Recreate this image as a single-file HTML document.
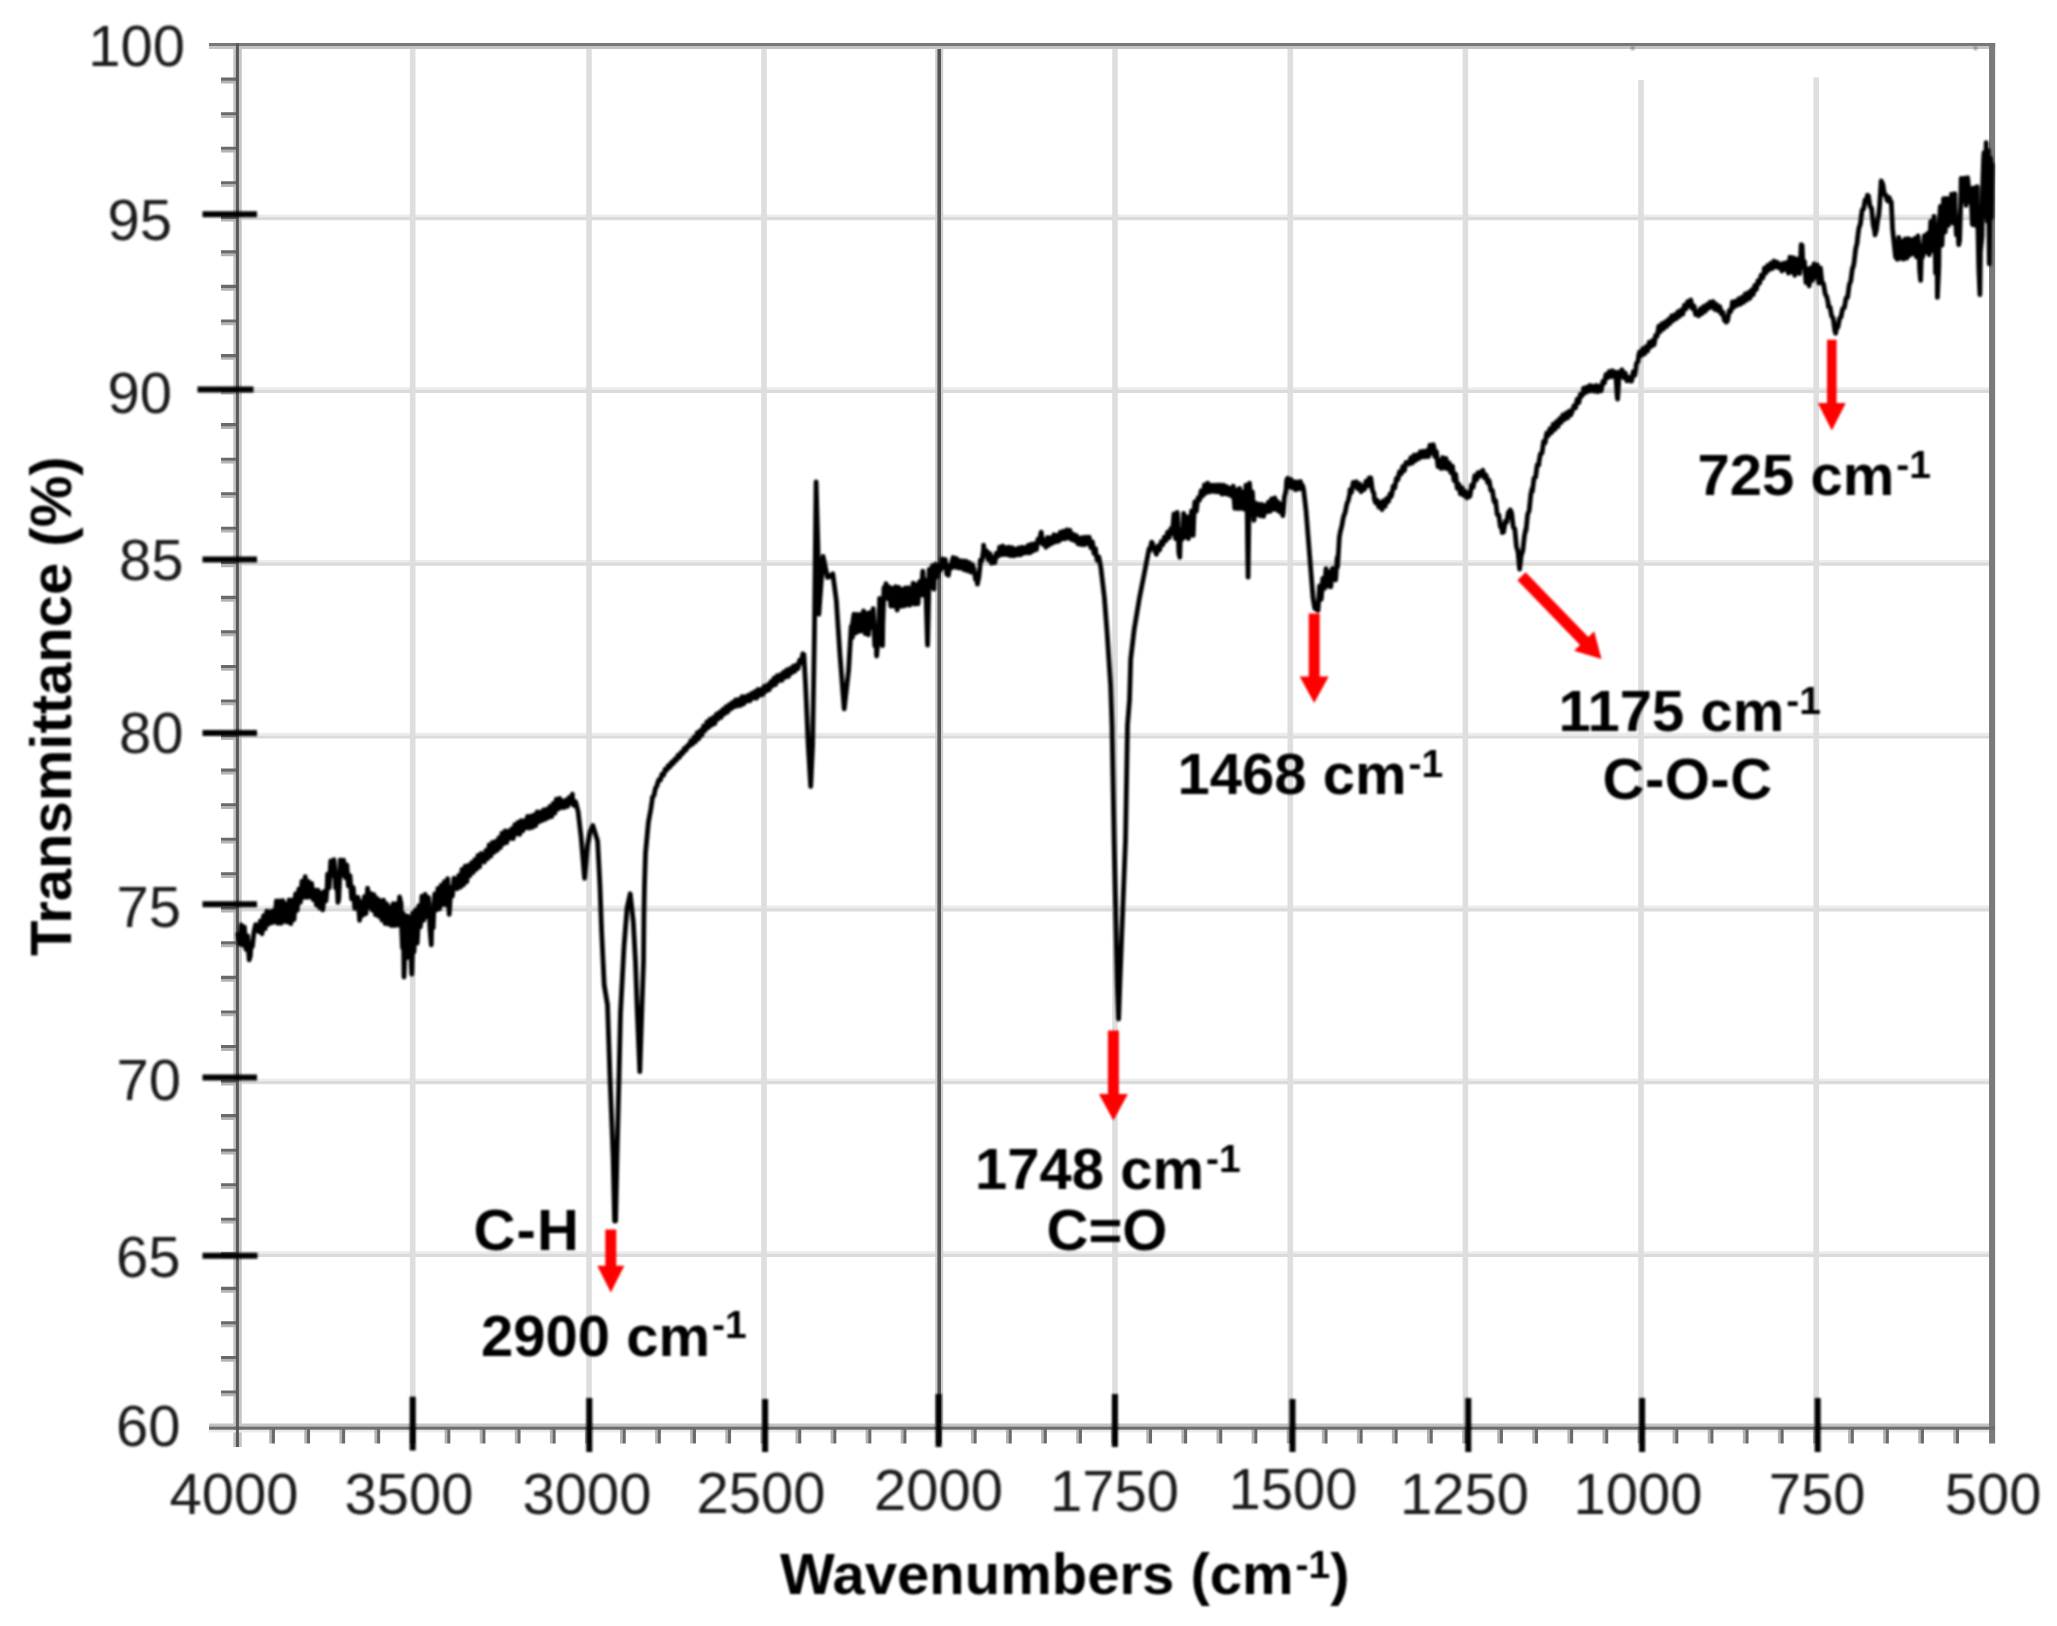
<!DOCTYPE html>
<html lang="en">
<head>
<meta charset="utf-8">
<title>FTIR spectrum</title>
<style>
html,body{margin:0;padding:0;background:#fff;}
body{width:2057px;height:1626px;overflow:hidden;}
svg{display:block;}
</style>
</head>
<body>
<svg width="2057" height="1626" viewBox="0 0 2057 1626">
<defs><filter id="soft" x="-2%" y="-2%" width="104%" height="104%"><feGaussianBlur stdDeviation="1.3"/></filter><filter id="soft2" x="-2%" y="-2%" width="104%" height="104%"><feGaussianBlur stdDeviation="0.7"/></filter></defs>
<rect width="2057" height="1626" fill="#ffffff"/>
<g fill="none" filter="url(#soft2)">
<path d="M238.0 215.8 H1992.3 M238.0 388.6 H1992.3 M238.0 561.4 H1992.3 M238.0 734.2 H1992.3 M238.0 907.0 H1992.3 M238.0 1079.8 H1992.3 M238.0 1252.6 H1992.3" stroke="#ececec" stroke-width="2.8"/>
<path d="M238.0 218.6 H1992.3 M238.0 391.4 H1992.3 M238.0 564.2 H1992.3 M238.0 737.0 H1992.3 M238.0 909.8 H1992.3 M238.0 1082.6 H1992.3 M238.0 1255.4 H1992.3" stroke="#dbdbdb" stroke-width="3.2"/>
<path d="M412.7 45.3 V1427.3 M589.0 45.3 V1427.3 M764.0 45.3 V1427.3 M1115.0 45.3 V1427.3 M1290.3 45.3 V1427.3 M1465.4 45.3 V1427.3 M1641.0 80.0 V1427.3 M1816.2 77.5 V1427.3" stroke="#dedede" stroke-width="5.6"/>
<path d="M939.2 45.3 V1427.3" stroke="#cfcfcf" stroke-width="8"/>
<path d="M939.2 45.3 V1427.3" stroke="#555" stroke-width="3.6"/>
<path d="M237.5 43.3 V1447" stroke="#c4c4c4" stroke-width="8.5"/>
<path d="M209 47.4 H1995.2" stroke="#c4c4c4" stroke-width="3"/>
<path d="M209 1425 H1995" stroke="#c4c4c4" stroke-width="2.8"/>
<path d="M209 1431.2 H1995" stroke="#ececec" stroke-width="2.6"/>
<path d="M221 82.0 H238.0 M221 116.6 H238.0 M221 151.1 H238.0 M221 185.7 H238.0 M221 220.2 H238.0 M221 254.8 H238.0 M221 289.3 H238.0 M221 323.9 H238.0 M221 358.4 H238.0 M221 393.0 H238.0 M221 427.5 H238.0 M221 462.1 H238.0 M221 496.6 H238.0 M221 531.2 H238.0 M221 565.8 H238.0 M221 600.3 H238.0 M221 634.8 H238.0 M221 669.4 H238.0 M221 703.9 H238.0 M221 738.5 H238.0 M221 773.0 H238.0 M221 807.6 H238.0 M221 842.1 H238.0 M221 876.7 H238.0 M221 911.2 H238.0 M221 945.8 H238.0 M221 980.3 H238.0 M221 1014.9 H238.0 M221 1049.5 H238.0 M221 1084.0 H238.0 M221 1118.5 H238.0 M221 1153.1 H238.0 M221 1187.6 H238.0 M221 1222.2 H238.0 M221 1256.8 H238.0 M221 1291.3 H238.0 M221 1325.8 H238.0 M221 1360.4 H238.0 M221 1394.9 H238.0 M270.6 1427.3 V1443.5 M305.7 1427.3 V1443.5 M340.8 1427.3 V1443.5 M375.8 1427.3 V1443.5 M410.9 1427.3 V1443.5 M446.0 1427.3 V1443.5 M481.1 1427.3 V1443.5 M516.2 1427.3 V1443.5 M551.3 1427.3 V1443.5 M586.4 1427.3 V1443.5 M621.4 1427.3 V1443.5 M656.5 1427.3 V1443.5 M691.6 1427.3 V1443.5 M726.7 1427.3 V1443.5 M761.8 1427.3 V1443.5 M796.9 1427.3 V1443.5 M832.0 1427.3 V1443.5 M867.0 1427.3 V1443.5 M902.1 1427.3 V1443.5 M937.2 1427.3 V1443.5 M972.3 1427.3 V1443.5 M1007.4 1427.3 V1443.5 M1042.5 1427.3 V1443.5 M1077.6 1427.3 V1443.5 M1112.7 1427.3 V1443.5 M1147.7 1427.3 V1443.5 M1182.8 1427.3 V1443.5 M1217.9 1427.3 V1443.5 M1253.0 1427.3 V1443.5 M1288.1 1427.3 V1443.5 M1323.2 1427.3 V1443.5 M1358.3 1427.3 V1443.5 M1393.3 1427.3 V1443.5 M1428.4 1427.3 V1443.5 M1463.5 1427.3 V1443.5 M1498.6 1427.3 V1443.5 M1533.7 1427.3 V1443.5 M1568.8 1427.3 V1443.5 M1603.9 1427.3 V1443.5 M1638.9 1427.3 V1443.5 M1674.0 1427.3 V1443.5 M1709.1 1427.3 V1443.5 M1744.2 1427.3 V1443.5 M1779.3 1427.3 V1443.5 M1814.4 1427.3 V1443.5 M1849.5 1427.3 V1443.5 M1884.5 1427.3 V1443.5 M1919.6 1427.3 V1443.5 M1954.7 1427.3 V1443.5" stroke="#b4b4b4" stroke-width="2.8"/>
<path d="M221 79.1 H238.0 M221 113.7 H238.0 M221 148.2 H238.0 M221 182.8 H238.0 M221 217.4 H238.0 M221 251.9 H238.0 M221 286.4 H238.0 M221 321.0 H238.0 M221 355.6 H238.0 M221 390.1 H238.0 M221 424.6 H238.0 M221 459.2 H238.0 M221 493.8 H238.0 M221 528.3 H238.0 M221 562.8 H238.0 M221 597.4 H238.0 M221 631.9 H238.0 M221 666.5 H238.0 M221 701.0 H238.0 M221 735.6 H238.0 M221 770.1 H238.0 M221 804.7 H238.0 M221 839.2 H238.0 M221 873.8 H238.0 M221 908.3 H238.0 M221 942.9 H238.0 M221 977.4 H238.0 M221 1012.0 H238.0 M221 1046.5 H238.0 M221 1081.1 H238.0 M221 1115.6 H238.0 M221 1150.2 H238.0 M221 1184.7 H238.0 M221 1219.3 H238.0 M221 1253.8 H238.0 M221 1288.4 H238.0 M221 1322.9 H238.0 M221 1357.5 H238.0 M221 1392.0 H238.0 M273.4 1427.3 V1443.5 M308.5 1427.3 V1443.5 M343.6 1427.3 V1443.5 M378.6 1427.3 V1443.5 M413.7 1427.3 V1443.5 M448.8 1427.3 V1443.5 M483.9 1427.3 V1443.5 M519.0 1427.3 V1443.5 M554.1 1427.3 V1443.5 M589.2 1427.3 V1443.5 M624.2 1427.3 V1443.5 M659.3 1427.3 V1443.5 M694.4 1427.3 V1443.5 M729.5 1427.3 V1443.5 M764.6 1427.3 V1443.5 M799.7 1427.3 V1443.5 M834.8 1427.3 V1443.5 M869.8 1427.3 V1443.5 M904.9 1427.3 V1443.5 M940.0 1427.3 V1443.5 M975.1 1427.3 V1443.5 M1010.2 1427.3 V1443.5 M1045.3 1427.3 V1443.5 M1080.4 1427.3 V1443.5 M1115.5 1427.3 V1443.5 M1150.5 1427.3 V1443.5 M1185.6 1427.3 V1443.5 M1220.7 1427.3 V1443.5 M1255.8 1427.3 V1443.5 M1290.9 1427.3 V1443.5 M1326.0 1427.3 V1443.5 M1361.1 1427.3 V1443.5 M1396.1 1427.3 V1443.5 M1431.2 1427.3 V1443.5 M1466.3 1427.3 V1443.5 M1501.4 1427.3 V1443.5 M1536.5 1427.3 V1443.5 M1571.6 1427.3 V1443.5 M1606.7 1427.3 V1443.5 M1641.7 1427.3 V1443.5 M1676.8 1427.3 V1443.5 M1711.9 1427.3 V1443.5 M1747.0 1427.3 V1443.5 M1782.1 1427.3 V1443.5 M1817.2 1427.3 V1443.5 M1852.3 1427.3 V1443.5 M1887.3 1427.3 V1443.5 M1922.4 1427.3 V1443.5 M1957.5 1427.3 V1443.5" stroke="#6a6a6a" stroke-width="3.1"/>
<path d="M1992.1 43.1 V1443.5" stroke="#7a7a7a" stroke-width="6.1"/>
<path d="M209 44.5 H1995.2" stroke="#787878" stroke-width="3"/>
<path d="M209 1428.1 H1995" stroke="#6e6e6e" stroke-width="3.4"/>
<path d="M237.4 43.3 V1447" stroke="#585858" stroke-width="3"/>
</g>
<g filter="url(#soft)">
<path d="M1632.6 46 V50 M1975.5 46 V50" stroke="#888" stroke-width="3"/>
<g stroke="#000" stroke-width="6" fill="none">
<path d="M202.5 214.2 H257.0"/>
<path d="M197.5 389.6 H253.5"/>
<path d="M202.5 559.6 H257.0"/>
<path d="M202.5 733.0 H257.0"/>
<path d="M202.5 904.3 H257.0"/>
<path d="M202.5 1077.4 H257.0"/>
<path d="M202.5 1255.8 H257.5"/>
<path d="M412.7 1396.7 V1450.5"/>
<path d="M589.3 1398.0 V1452.0"/>
<path d="M765.1 1399.0 V1452.0"/>
<path d="M938.6 1394.0 V1447.0"/>
<path d="M1114.9 1394.0 V1447.0"/>
<path d="M1292.5 1399.0 V1452.0"/>
<path d="M1468.3 1398.0 V1452.0"/>
<path d="M1642.1 1398.0 V1452.0"/>
<path d="M1817.7 1398.0 V1452.0"/>
</g>
<path d="M238.0 934.3 L239.6 944.2 L241.2 924.8 L242.8 945.1 L244.4 926.9 L245.0 937.4 L246.0 949.3 L247.6 936.0 L249.2 959.8 L250.4 955.7 L250.8 945.3 L252.4 946.4 L254.0 931.9 L255.6 924.7 L257.2 928.3 L258.8 931.6 L260.4 920.9 L262.0 933.8 L263.6 915.7 L265.2 928.7 L266.8 911.1 L268.4 924.3 L268.9 919.5 L270.0 911.6 L271.6 922.9 L273.2 910.7 L274.8 922.0 L276.4 901.0 L278.0 923.4 L279.6 900.9 L280.6 913.2 L281.2 923.4 L282.8 900.7 L284.4 921.3 L286.0 903.9 L287.6 922.2 L289.2 899.8 L290.8 923.7 L292.2 911.8 L292.4 899.9 L294.0 919.5 L295.6 893.9 L297.2 910.4 L298.1 898.7 L298.8 889.1 L300.4 902.4 L302.0 881.1 L303.6 897.3 L304.9 884.8 L305.2 876.7 L306.8 897.4 L308.4 881.3 L310.0 896.9 L311.6 883.5 L313.2 899.5 L313.6 894.2 L314.8 890.1 L316.4 905.0 L318.0 890.2 L319.6 907.8 L321.2 893.0 L322.8 909.9 L323.3 904.4 L324.4 891.3 L326.0 900.9 L327.2 886.3 L327.6 874.1 L329.2 887.9 L330.8 860.8 L331.1 868.6 L332.4 875.2 L334.0 859.7 L335.0 870.5 L335.6 888.0 L337.2 884.7 L337.9 902.3 L338.8 899.0 L340.4 859.8 L340.5 866.4 L342.0 874.6 L342.8 863.9 L343.6 860.2 L345.2 877.5 L346.8 864.9 L348.4 885.8 L350.0 875.6 L350.6 884.1 L351.6 898.8 L353.2 887.5 L354.8 908.4 L356.4 906.0 L358.0 897.3 L359.6 920.4 L360.3 912.2 L361.2 902.0 L362.8 915.4 L364.4 896.7 L366.0 913.5 L367.6 888.1 L368.1 897.8 L369.2 907.4 L370.8 893.4 L372.4 910.2 L374.0 894.6 L375.6 914.7 L377.2 898.4 L377.8 905.0 L378.8 916.4 L380.4 900.6 L382.0 920.0 L383.6 900.2 L385.2 923.5 L385.6 913.7 L386.8 903.9 L388.4 924.0 L390.0 907.2 L391.6 925.5 L393.2 903.6 L394.8 925.6 L396.4 903.7 L397.2 914.2 L398.0 925.0 L399.6 897.0 L401.1 903.7 L401.2 916.5 L402.5 947.7 L402.8 923.7 L403.2 913.2 L404.0 977.0 L404.4 966.7 L405.0 922.4 L406.0 958.2 L407.0 915.9 L407.6 928.2 L407.9 949.5 L409.0 917.0 L409.2 936.4 L410.3 958.2 L410.8 953.4 L411.8 974.1 L412.4 951.5 L412.8 913.0 L414.0 951.8 L415.0 914.6 L415.6 909.9 L416.5 939.9 L417.2 943.1 L418.6 916.4 L418.8 905.8 L420.4 926.9 L422.0 896.2 L423.6 920.3 L424.5 905.3 L425.2 894.5 L426.8 916.7 L428.4 897.3 L429.0 905.2 L430.0 929.6 L431.3 944.8 L431.6 927.1 L433.2 927.7 L434.0 903.8 L434.8 893.9 L436.1 901.5 L436.4 909.9 L438.0 888.3 L439.6 908.9 L441.2 885.1 L442.8 904.5 L443.9 893.1 L444.4 881.6 L446.0 904.8 L447.5 891.4 L447.6 878.7 L449.2 914.3 L449.7 906.7 L450.8 888.3 L452.0 887.1 L452.4 896.0 L454.0 878.2 L455.6 883.3 L457.2 888.8 L458.8 875.4 L460.4 887.2 L462.0 869.4 L463.3 876.6 L463.6 884.9 L465.2 866.1 L466.8 881.8 L468.4 865.4 L470.0 875.7 L471.6 862.7 L473.2 872.4 L474.8 859.6 L476.4 869.3 L478.0 855.4 L479.6 866.8 L481.2 853.5 L482.8 857.5 L484.4 862.0 L486.0 850.3 L487.6 858.7 L489.2 844.8 L490.8 856.2 L492.4 842.4 L494.0 852.4 L495.6 841.3 L497.2 850.4 L498.8 838.0 L500.4 847.6 L502.0 833.1 L502.2 839.5 L503.6 843.7 L505.2 830.9 L506.8 842.5 L508.4 831.1 L510.0 838.4 L511.6 828.9 L513.2 838.6 L514.8 824.6 L516.4 834.0 L518.0 822.3 L519.6 834.4 L521.2 820.6 L521.7 825.8 L522.8 831.0 L524.4 820.6 L526.0 827.8 L527.6 816.4 L529.2 828.1 L530.8 816.1 L532.4 827.4 L534.0 814.8 L535.6 825.6 L537.2 812.0 L538.8 822.0 L540.4 812.2 L541.1 816.0 L542.0 820.6 L543.6 809.8 L545.2 819.4 L546.8 809.1 L548.4 817.7 L550.0 806.3 L550.9 812.2 L551.6 816.6 L553.2 803.5 L554.8 813.2 L556.4 799.2 L556.7 804.7 L558.0 809.1 L559.6 798.4 L561.2 807.7 L562.8 801.0 L564.4 807.5 L564.5 803.3 L566.0 800.0 L567.6 806.3 L569.2 797.5 L570.8 803.4 L572.4 794.2 L572.5 798.6 L574.0 805.5 L575.6 801.8 L578.1 811.5 L581.2 838.0 L584.6 878.4 L587.6 845.0 L590.0 832.0 L592.8 825.5 L597.6 841.0 L599.9 884.5 L601.6 931.0 L604.2 985.0 L607.5 1005.0 L610.0 1077.8 L613.1 1155.6 L614.6 1221.0 L615.6 1221.0 L617.0 1155.6 L619.0 1077.8 L620.5 1013.0 L624.0 946.7 L627.1 907.8 L630.2 893.8 L633.3 921.8 L635.5 962.0 L637.0 1005.0 L639.8 1071.6 L642.0 1005.0 L643.5 962.0 L643.9 915.6 L644.5 884.5 L645.5 853.3 L648.4 822.2 L650.8 809.4 L652.3 799.1 L652.4 797.5 L654.0 795.3 L655.6 787.8 L657.2 785.5 L657.5 783.5 L658.8 779.7 L660.4 780.0 L662.0 774.2 L663.6 775.1 L665.2 769.2 L666.0 769.4 L666.8 770.0 L668.4 765.4 L670.0 766.9 L671.6 762.3 L673.2 763.6 L674.8 759.1 L675.3 760.2 L676.4 760.4 L678.0 755.3 L679.6 757.2 L681.2 752.3 L682.8 753.4 L684.4 748.3 L686.0 750.1 L687.6 745.5 L689.1 744.8 L689.2 746.3 L690.8 740.7 L692.4 744.3 L694.0 737.3 L695.6 741.7 L697.2 732.6 L698.8 738.7 L700.4 730.4 L702.0 735.0 L703.6 726.0 L705.2 730.5 L706.6 726.9 L706.8 722.0 L708.4 727.6 L710.0 719.3 L711.6 725.2 L713.2 717.5 L714.8 723.6 L716.4 714.1 L718.0 719.3 L719.6 712.1 L721.2 717.2 L722.8 709.5 L724.4 713.9 L726.0 706.8 L727.6 712.1 L729.2 704.7 L730.8 709.1 L731.1 705.3 L732.4 702.4 L734.0 707.1 L735.6 699.9 L737.2 706.0 L738.8 699.5 L740.4 705.5 L742.0 696.7 L743.6 704.0 L745.2 696.6 L746.8 701.2 L748.4 695.3 L750.0 700.8 L751.6 693.4 L753.2 698.1 L754.8 691.7 L756.4 698.2 L758.0 689.5 L759.6 695.5 L761.2 689.3 L762.7 691.8 L762.8 694.6 L764.4 686.3 L766.0 691.2 L767.6 684.9 L769.2 689.8 L770.8 681.7 L772.4 686.0 L774.0 678.1 L775.6 684.5 L777.2 675.8 L778.8 680.9 L780.2 677.8 L780.4 674.7 L782.0 680.2 L783.6 672.1 L785.2 677.3 L786.8 669.9 L788.4 676.5 L790.0 668.6 L791.6 673.0 L793.2 666.2 L794.8 671.3 L796.4 665.0 L797.7 666.4 L798.0 668.6 L799.6 660.3 L801.2 662.8 L802.8 653.8 L803.9 654.5 L805.7 688.0 L808.2 745.0 L810.7 786.4 L812.6 745.0 L814.4 635.3 L816.1 481.9 L817.9 547.6 L818.8 614.2 L823.1 556.4 L827.5 577.4 L832.8 573.9 L836.3 600.2 L839.8 652.8 L844.2 708.9 L848.6 670.3 L851.2 626.5 L852.4 637.4 L852.5 624.1 L854.0 614.1 L855.6 633.1 L857.2 614.4 L858.8 631.5 L860.4 614.4 L862.0 630.8 L863.6 610.8 L865.2 633.5 L866.8 613.5 L868.0 621.9 L868.4 634.8 L870.0 612.5 L871.6 627.3 L873.0 614.8 L873.2 608.6 L874.8 645.9 L876.4 645.5 L876.6 656.0 L878.0 641.0 L879.5 606.6 L879.6 598.4 L881.2 638.1 L882.5 645.7 L882.8 624.2 L884.0 587.7 L884.4 596.4 L886.0 583.6 L887.6 598.6 L889.2 586.9 L890.8 606.1 L892.4 588.4 L894.0 606.2 L894.1 596.9 L895.6 586.7 L897.2 610.0 L898.8 587.4 L900.4 606.3 L902.0 589.4 L903.6 606.0 L905.2 587.9 L906.8 605.0 L908.4 587.6 L910.0 605.2 L911.6 598.4 L913.2 583.1 L914.8 604.1 L916.4 584.6 L918.0 603.9 L919.6 581.7 L920.4 589.2 L921.2 594.9 L922.8 571.1 L924.4 595.6 L925.0 580.0 L926.0 593.6 L927.4 641.4 L927.6 645.1 L929.2 569.4 L929.5 569.7 L930.8 587.6 L932.4 565.6 L934.0 589.1 L934.4 578.1 L935.6 564.2 L937.2 576.9 L938.8 565.3 L940.4 570.1 L941.4 563.6 L942.0 558.8 L943.6 567.3 L945.0 561.8 L945.2 559.3 L946.8 574.2 L948.4 575.2 L950.0 565.2 L951.6 567.7 L952.0 561.3 L953.2 557.5 L954.8 567.2 L955.5 562.7 L956.4 558.4 L958.0 567.9 L959.6 560.7 L961.2 568.2 L962.8 560.9 L964.4 569.9 L966.0 561.2 L967.6 570.9 L969.2 562.7 L969.5 567.5 L970.8 572.1 L972.4 564.6 L974.0 569.6 L975.6 579.6 L977.2 580.5 L977.4 584.2 L978.8 577.5 L980.0 566.5 L980.4 560.1 L982.0 560.7 L983.5 549.6 L983.6 545.2 L985.2 555.4 L986.8 550.9 L987.0 554.3 L988.4 560.0 L990.0 553.6 L990.5 558.2 L991.6 563.2 L993.2 557.4 L994.0 561.3 L994.8 562.6 L996.4 553.2 L998.0 556.3 L999.3 550.7 L999.6 547.2 L1001.2 554.8 L1002.8 546.0 L1004.4 554.5 L1006.0 547.6 L1007.6 554.8 L1009.2 547.2 L1010.8 555.7 L1012.4 547.7 L1014.0 555.8 L1015.6 549.1 L1017.2 555.0 L1018.6 551.8 L1018.8 547.9 L1020.4 554.9 L1022.0 547.3 L1023.6 553.3 L1025.2 547.5 L1026.8 552.9 L1028.4 545.2 L1030.0 552.8 L1031.6 544.2 L1033.2 551.0 L1034.8 543.6 L1036.1 546.8 L1036.4 549.7 L1038.0 539.1 L1039.6 542.4 L1040.5 535.1 L1041.2 532.1 L1042.8 544.3 L1044.4 540.0 L1044.8 543.3 L1046.0 547.2 L1047.6 537.5 L1049.2 545.1 L1050.8 537.6 L1052.4 543.2 L1054.0 534.8 L1055.6 541.8 L1057.1 538.2 L1057.2 535.1 L1058.8 541.2 L1060.4 532.2 L1062.0 539.1 L1063.6 531.3 L1065.2 538.7 L1066.8 529.9 L1068.4 538.0 L1068.5 533.4 L1070.0 530.3 L1071.6 539.6 L1073.2 534.4 L1074.8 540.7 L1076.4 535.5 L1078.0 543.9 L1079.6 538.1 L1079.9 541.1 L1081.2 544.6 L1082.8 537.5 L1084.4 544.7 L1086.0 537.2 L1087.6 543.5 L1088.7 539.5 L1089.2 537.1 L1090.8 547.6 L1092.4 541.8 L1094.0 553.5 L1095.6 548.8 L1095.7 552.0 L1097.2 560.2 L1098.8 556.8 L1100.9 567.9 L1104.4 597.7 L1107.1 632.8 L1110.6 685.0 L1112.0 725.0 L1114.1 840.0 L1117.3 985.0 L1118.6 1019.0 L1119.8 985.0 L1122.0 927.8 L1125.5 840.2 L1127.5 725.0 L1129.5 700.0 L1130.7 659.1 L1134.2 629.3 L1139.5 597.7 L1144.7 571.4 L1149.1 548.7 L1150.0 550.4 L1151.6 542.2 L1152.6 543.3 L1153.2 547.9 L1154.8 548.4 L1155.3 551.8 L1156.4 554.2 L1158.0 546.0 L1159.6 550.1 L1161.2 541.8 L1162.8 544.6 L1164.4 537.1 L1165.8 537.8 L1166.0 540.6 L1167.6 532.3 L1169.2 537.6 L1170.8 528.6 L1172.4 533.3 L1174.0 513.8 L1174.5 529.6 L1175.6 538.7 L1177.2 512.5 L1178.0 523.0 L1178.8 552.6 L1179.8 557.2 L1180.4 534.4 L1181.5 530.7 L1182.0 539.6 L1183.3 526.0 L1183.6 513.5 L1185.2 537.1 L1186.8 516.6 L1188.4 538.6 L1190.0 527.1 L1191.6 511.0 L1193.2 535.3 L1193.8 517.9 L1194.8 501.9 L1196.4 511.1 L1197.0 505.1 L1198.0 497.9 L1199.1 497.3 L1199.6 500.0 L1201.2 490.7 L1202.8 495.8 L1204.3 488.2 L1204.4 485.0 L1206.0 493.0 L1207.6 483.2 L1209.2 492.0 L1210.8 485.1 L1212.4 491.4 L1214.0 485.2 L1215.6 491.7 L1216.6 487.6 L1217.2 485.0 L1218.8 492.0 L1220.4 485.0 L1222.0 494.1 L1223.6 485.2 L1225.2 493.7 L1226.8 486.7 L1228.4 494.6 L1228.9 490.6 L1230.0 488.3 L1231.6 496.1 L1233.2 486.1 L1234.8 508.3 L1236.4 489.8 L1238.0 508.5 L1239.4 500.5 L1239.6 488.3 L1241.2 508.4 L1242.8 492.2 L1244.4 509.2 L1245.0 500.6 L1246.0 485.1 L1247.0 489.7 L1247.6 547.5 L1248.1 577.2 L1249.2 497.5 L1249.5 483.2 L1250.8 504.2 L1252.4 491.8 L1253.4 510.0 L1254.0 520.3 L1255.6 503.2 L1257.2 514.6 L1258.8 504.1 L1260.4 515.9 L1262.0 504.3 L1263.6 516.3 L1263.9 509.6 L1265.2 505.5 L1266.8 512.0 L1268.4 502.2 L1270.0 511.4 L1271.6 498.9 L1273.2 509.4 L1274.4 503.4 L1274.8 497.9 L1276.4 509.8 L1278.0 501.8 L1279.6 511.9 L1281.2 504.3 L1282.8 515.7 L1283.2 512.8 L1284.4 497.2 L1286.0 490.6 L1286.7 480.4 L1287.6 478.3 L1289.2 486.8 L1290.8 479.4 L1292.4 487.7 L1293.7 485.0 L1294.0 481.7 L1295.6 489.7 L1297.2 482.0 L1298.8 488.9 L1300.4 481.5 L1302.0 488.4 L1302.5 485.3 L1303.6 489.5 L1306.0 510.1 L1309.5 553.9 L1313.0 597.7 L1314.7 608.2 L1318.0 610.5 L1319.6 585.8 L1320.0 595.5 L1321.2 599.2 L1322.8 578.4 L1324.4 588.4 L1325.2 580.1 L1326.0 568.7 L1327.6 586.1 L1329.2 572.0 L1330.8 586.9 L1332.4 568.5 L1334.0 577.7 L1335.6 579.9 L1337.2 557.3 L1337.5 567.2 L1338.8 546.3 L1339.3 537.5 L1340.4 531.3 L1342.0 525.1 L1342.8 520.3 L1343.6 516.4 L1345.2 512.3 L1346.8 504.1 L1348.4 500.1 L1349.8 493.8 L1350.0 489.7 L1351.6 492.2 L1353.2 482.3 L1354.2 483.1 L1354.8 486.3 L1356.4 481.8 L1358.0 488.9 L1359.6 483.9 L1361.2 491.7 L1362.1 489.1 L1362.8 486.1 L1364.4 489.3 L1366.0 481.2 L1367.6 486.0 L1369.2 477.9 L1370.8 478.0 L1372.4 490.2 L1374.0 493.7 L1374.3 498.8 L1375.6 502.8 L1377.2 500.3 L1378.8 507.0 L1380.4 502.5 L1381.3 507.5 L1382.0 509.6 L1383.6 500.8 L1385.2 506.4 L1386.8 498.4 L1388.4 501.6 L1390.0 493.9 L1390.1 497.7 L1391.6 495.6 L1393.2 486.2 L1394.8 487.9 L1396.4 478.4 L1398.0 479.6 L1398.9 474.2 L1399.6 471.6 L1401.2 473.9 L1402.8 466.5 L1404.4 470.6 L1406.0 462.4 L1407.6 462.9 L1409.2 463.9 L1410.8 457.8 L1412.4 463.0 L1414.0 455.2 L1415.6 460.5 L1417.2 454.6 L1418.1 456.2 L1418.8 458.6 L1420.4 451.7 L1422.0 457.0 L1423.6 451.3 L1425.2 456.9 L1426.8 450.6 L1428.4 456.6 L1428.7 452.5 L1430.0 445.2 L1431.6 453.0 L1433.2 444.6 L1433.9 446.7 L1434.8 456.5 L1436.4 451.6 L1438.0 466.6 L1439.2 465.7 L1439.6 460.5 L1441.2 468.5 L1442.8 457.5 L1444.4 468.2 L1446.0 458.3 L1446.2 462.8 L1447.6 468.8 L1449.2 462.7 L1450.8 472.7 L1452.4 466.1 L1453.2 473.7 L1454.0 480.5 L1455.6 474.0 L1457.2 488.3 L1458.5 488.2 L1458.8 484.1 L1460.4 493.8 L1462.0 487.6 L1463.6 495.2 L1465.2 491.2 L1466.8 497.7 L1468.4 493.2 L1469.0 497.0 L1470.0 495.9 L1471.6 485.2 L1473.2 487.1 L1474.8 475.6 L1475.1 478.4 L1476.4 479.9 L1478.0 472.6 L1479.6 476.2 L1481.2 471.8 L1482.8 470.4 L1484.4 477.8 L1486.0 475.0 L1487.6 482.6 L1488.2 479.6 L1489.2 480.9 L1490.8 490.4 L1492.4 490.4 L1494.0 501.1 L1495.3 503.2 L1495.6 500.4 L1497.2 514.5 L1498.8 515.1 L1500.4 526.6 L1502.0 529.0 L1502.3 532.5 L1503.6 532.0 L1505.2 521.3 L1506.8 522.0 L1508.4 512.1 L1510.0 513.4 L1510.2 509.9 L1511.6 512.7 L1513.2 526.7 L1514.5 529.2 L1514.8 528.9 L1516.4 546.3 L1518.0 551.9 L1519.6 569.1 L1519.8 567.4 L1521.2 555.4 L1522.8 551.0 L1524.4 536.0 L1525.9 528.7 L1526.0 530.7 L1527.6 514.4 L1529.2 510.6 L1530.8 494.5 L1532.1 488.6 L1532.4 491.2 L1534.0 478.2 L1535.6 477.1 L1537.2 464.8 L1538.8 465.0 L1539.1 461.2 L1540.4 453.8 L1542.0 453.3 L1543.6 441.4 L1545.2 442.7 L1546.1 436.6 L1546.8 433.0 L1548.4 435.6 L1550.0 428.6 L1551.3 428.8 L1551.6 432.5 L1553.2 424.3 L1554.8 429.5 L1556.4 421.7 L1558.0 426.5 L1559.6 418.7 L1561.2 422.5 L1561.9 419.7 L1562.8 415.0 L1564.4 419.6 L1566.0 413.1 L1567.6 417.9 L1569.2 411.1 L1570.8 415.0 L1572.4 410.6 L1574.0 405.7 L1575.6 407.8 L1577.2 399.3 L1578.8 402.7 L1580.4 394.3 L1582.0 395.9 L1583.3 391.3 L1583.6 388.1 L1585.2 392.9 L1586.8 387.1 L1588.4 391.3 L1589.2 388.8 L1590.0 385.5 L1591.6 390.7 L1593.2 386.3 L1594.8 391.2 L1596.4 385.5 L1598.0 391.6 L1599.6 386.3 L1600.8 388.1 L1601.2 390.8 L1602.8 381.3 L1604.4 383.0 L1606.0 374.4 L1606.7 375.9 L1607.6 377.7 L1609.2 371.5 L1610.8 376.7 L1612.4 370.7 L1614.0 376.5 L1615.4 373.1 L1615.6 372.2 L1617.2 396.4 L1617.6 399.1 L1618.8 379.8 L1619.5 371.9 L1620.4 376.1 L1621.3 372.4 L1622.0 369.8 L1623.6 377.6 L1625.2 372.9 L1626.8 380.9 L1628.4 377.3 L1630.0 380.8 L1631.6 381.1 L1633.2 371.7 L1634.8 375.2 L1635.8 369.1 L1636.4 363.6 L1638.0 361.6 L1638.8 355.0 L1639.6 352.0 L1641.2 355.5 L1642.8 348.7 L1644.4 353.9 L1646.0 346.7 L1647.5 347.7 L1647.6 351.0 L1649.2 342.3 L1650.8 346.8 L1652.4 340.5 L1654.0 344.9 L1654.8 340.9 L1655.6 335.4 L1657.2 336.2 L1658.8 326.2 L1659.2 328.7 L1660.4 331.5 L1662.0 323.6 L1663.6 328.9 L1665.2 321.9 L1666.8 326.4 L1668.4 319.4 L1670.0 323.4 L1670.8 320.4 L1671.6 315.9 L1673.2 320.6 L1674.8 314.6 L1676.4 318.6 L1678.0 311.7 L1679.6 316.2 L1681.2 310.0 L1682.5 311.0 L1682.8 314.2 L1684.4 305.3 L1686.0 308.9 L1687.6 301.7 L1689.2 305.9 L1689.8 301.3 L1690.8 300.0 L1692.4 308.5 L1694.0 305.9 L1695.6 314.6 L1697.1 314.3 L1697.2 311.6 L1698.8 315.8 L1700.4 308.8 L1702.0 313.6 L1703.6 306.5 L1705.2 311.4 L1706.8 304.6 L1708.4 308.4 L1710.0 302.1 L1711.6 307.0 L1711.7 303.7 L1713.2 301.6 L1714.8 309.4 L1716.4 304.3 L1718.0 310.6 L1719.6 306.4 L1720.4 309.4 L1721.2 313.8 L1722.8 312.1 L1724.4 320.4 L1726.0 318.8 L1726.3 322.2 L1727.6 320.6 L1729.2 310.7 L1730.8 311.4 L1732.1 305.7 L1732.4 301.9 L1734.0 307.2 L1735.6 301.2 L1737.2 305.3 L1738.8 298.8 L1740.4 304.2 L1742.0 297.3 L1743.6 302.2 L1745.2 294.0 L1746.8 300.1 L1748.4 292.5 L1749.6 294.9 L1750.0 298.4 L1751.6 289.9 L1753.2 294.6 L1754.8 285.4 L1756.4 289.4 L1756.9 286.8 L1758.0 280.7 L1759.6 283.3 L1761.2 275.2 L1762.8 278.0 L1764.2 271.5 L1764.4 268.2 L1766.0 272.9 L1767.6 265.5 L1769.2 269.9 L1770.8 263.3 L1772.4 268.4 L1774.0 261.0 L1774.4 262.8 L1775.6 266.7 L1777.2 262.2 L1778.8 267.9 L1780.4 264.3 L1781.7 267.1 L1782.0 271.0 L1783.6 263.3 L1785.2 269.3 L1786.8 262.5 L1788.4 273.1 L1790.0 257.2 L1790.4 263.1 L1791.6 272.2 L1793.2 257.7 L1794.8 275.3 L1796.4 258.9 L1798.0 268.2 L1799.6 273.6 L1800.5 260.8 L1801.2 244.6 L1802.1 245.4 L1802.8 261.5 L1803.7 266.9 L1804.4 261.3 L1806.0 282.5 L1807.6 269.0 L1807.9 277.6 L1809.2 285.8 L1810.8 268.0 L1812.4 280.4 L1814.0 263.9 L1815.6 277.1 L1816.7 271.4 L1817.2 264.8 L1818.8 283.0 L1820.4 267.9 L1822.0 283.3 L1822.5 282.2 L1823.6 284.4 L1825.2 293.8 L1826.8 296.8 L1828.3 303.7 L1828.4 306.6 L1830.0 307.0 L1831.6 316.0 L1832.7 317.4 L1833.2 318.2 L1834.8 330.5 L1835.6 333.2 L1836.4 329.0 L1838.0 326.9 L1839.6 318.3 L1841.2 316.8 L1841.5 314.1 L1842.8 308.5 L1844.4 307.7 L1846.0 298.4 L1847.3 296.5 L1847.6 297.5 L1849.2 285.0 L1850.8 280.8 L1852.4 268.4 L1853.1 267.3 L1854.0 263.2 L1855.6 249.3 L1857.2 242.6 L1857.5 238.6 L1858.8 228.5 L1860.4 223.9 L1862.0 211.0 L1862.5 209.6 L1863.6 209.0 L1865.2 199.7 L1866.8 199.0 L1867.5 195.1 L1868.4 196.0 L1870.0 206.1 L1871.2 207.7 L1871.6 208.6 L1873.2 224.6 L1874.8 231.9 L1875.0 234.9 L1876.4 229.8 L1878.0 217.9 L1878.7 215.8 L1879.6 206.1 L1881.2 180.8 L1882.8 184.2 L1884.4 194.3 L1886.0 195.2 L1886.2 197.3 L1887.6 200.8 L1889.2 197.6 L1890.8 203.2 L1891.2 201.5 L1892.4 224.9 L1892.5 228.5 L1895.6 257.3 L1897.0 246.4 L1897.2 259.3 L1898.8 237.3 L1900.4 258.4 L1902.0 241.4 L1903.6 259.0 L1905.0 248.9 L1905.2 239.0 L1906.8 258.2 L1908.4 238.6 L1910.0 255.0 L1911.6 240.0 L1912.0 246.0 L1913.2 253.6 L1914.8 238.3 L1916.4 256.9 L1918.0 235.9 L1919.0 247.2 L1919.6 269.5 L1920.6 280.4 L1921.2 260.6 L1922.5 245.8 L1922.8 256.6 L1924.4 235.6 L1926.0 252.0 L1927.6 233.3 L1928.0 244.7 L1929.2 254.8 L1929.9 238.9 L1930.8 221.4 L1932.4 250.7 L1934.0 216.4 L1935.0 233.8 L1935.6 273.1 L1937.2 271.0 L1937.4 297.4 L1938.8 267.3 L1939.3 222.7 L1940.4 206.4 L1942.0 245.1 L1943.6 198.6 L1945.0 219.0 L1945.2 232.0 L1946.8 198.4 L1948.4 225.4 L1950.0 211.7 L1951.6 194.1 L1953.2 223.2 L1954.8 193.6 L1955.0 207.1 L1956.4 234.8 L1958.0 227.0 L1958.7 244.7 L1959.6 240.2 L1961.0 192.9 L1961.2 178.3 L1962.8 200.7 L1963.7 185.6 L1964.4 178.2 L1966.0 205.3 L1967.6 177.7 L1968.7 188.2 L1969.2 201.4 L1970.8 188.4 L1972.4 224.5 L1973.7 210.0 L1974.0 187.8 L1975.6 225.3 L1977.2 186.7 L1977.4 200.6 L1978.8 268.7 L1979.9 294.7 L1980.4 251.8 L1982.0 236.3 L1982.5 191.9 L1983.6 158.8 L1984.0 152.6 L1985.0 215.7 L1985.2 206.0 L1986.2 142.6 L1986.8 183.1 L1987.3 221.3 L1988.3 150.5 L1988.4 165.9 L1989.3 263.9 L1990.0 197.4 L1990.5 158.2 L1991.3 217.7 L1991.6 198.3 L1992.0 164.4" fill="none" stroke="#000" stroke-width="4.8" stroke-linejoin="round" stroke-linecap="round"/>
<g fill="#ff0000" stroke="none">
<path d="M605.3 1229.5 H616.3 V1265.7 H624.3 L610.8 1292.5 L597.3 1265.7 H605.3 Z"/>
<path d="M1107.9 1030.6 H1118.9 V1093.9 H1127.9 L1113.4 1120.5 L1098.9 1093.9 H1107.9 Z"/>
<path d="M1308.7 613.5 H1319.7 V676.6 H1328.7 L1314.2 703.0 L1299.7 676.6 H1308.7 Z"/>
<path d="M1827.0 339.8 H1836.6 V403.1 H1845.8 L1831.8 430.6 L1817.8 403.1 H1827.0 Z"/>
<path d="M1517.4 580.3 L1580.0 645.0 L1574.1 650.8 L1601.5 659.0 L1594.2 631.3 L1588.3 637.0 L1525.6 572.3 Z"/>
</g>
<g font-family="'Liberation Sans', Arial, sans-serif" font-size="58" fill="#1a1a1a">
<g text-anchor="end">
<text x="185.0" y="65.5">100</text>
<text x="172.0" y="239.5">95</text>
<text x="172.0" y="412.5">90</text>
<text x="183.5" y="579.5">85</text>
<text x="183.5" y="752.5">80</text>
<text x="181.0" y="927.0">75</text>
<text x="181.0" y="1100.0">70</text>
<text x="180.5" y="1277.0">65</text>
<text x="180.5" y="1445.5">60</text>
</g><g text-anchor="middle">
<text x="234.0" y="1513.5">4000</text>
<text x="409.0" y="1513.5">3500</text>
<text x="587.0" y="1513.5">3000</text>
<text x="761.0" y="1512.5">2500</text>
<text x="938.6" y="1509.7">2000</text>
<text x="1114.5" y="1511.4">1750</text>
<text x="1293.0" y="1508.5">1500</text>
<text x="1464.5" y="1513.5">1250</text>
<text x="1638.0" y="1513.5">1000</text>
<text x="1817.2" y="1513.5">750</text>
<text x="1993.2" y="1513.5">500</text>
</g></g>
<g font-family="'Liberation Sans', Arial, sans-serif" font-size="58" font-weight="bold" fill="#000">
<text x="481.0" y="1355.6">2900 cm<tspan font-size="39" dy="-17.5" dx="2">-1</tspan></text>
<text x="473.5" y="1250.2" letter-spacing="1.2">C-H</text>
<text x="975.0" y="1189.0">1748 cm<tspan font-size="39" dy="-17.5" dx="2">-1</tspan></text>
<text x="1046.5" y="1250.2">C=O</text>
<text x="1177.5" y="794.0">1468 cm<tspan font-size="39" dy="-17.5" dx="2">-1</tspan></text>
<text x="1558.5" y="731.2">1175 cm<tspan font-size="39" dy="-17.5" dx="2">-1</tspan></text>
<text x="1602.5" y="799.3" letter-spacing="0.5">C-O-C</text>
<text x="1697.5" y="495.0">725 cm<tspan font-size="39" dy="-17.5" dx="2">-1</tspan></text>
<text x="780" y="1594">Wavenumbers (cm<tspan font-size="39" dy="-16" dx="2">-1</tspan><tspan dy="16">)</tspan></text>
<text transform="translate(71 956) rotate(-90)">Transmittance (%)</text>
</g>
</g>
</svg>
</body>
</html>
